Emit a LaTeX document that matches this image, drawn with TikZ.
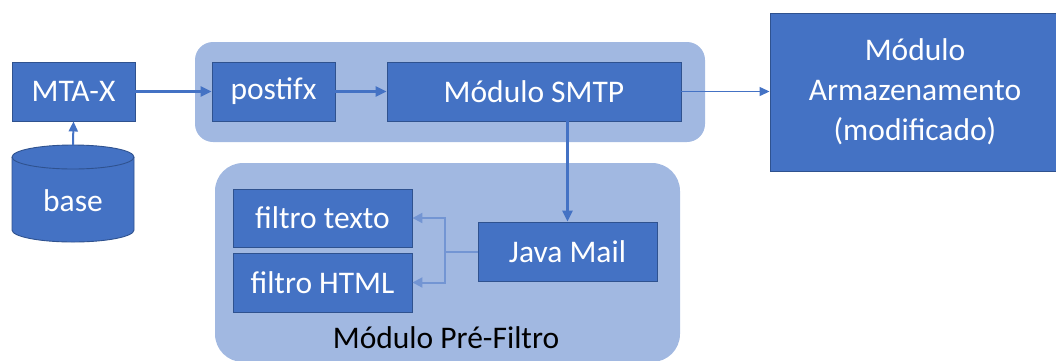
\documentclass[tikz,border=0pt]{standalone}
\usepackage{fontspec}
\setmainfont{Carlito}
\usetikzlibrary{arrows.meta}
\definecolor{boxblue}{RGB}{68,114,196}
\definecolor{boxedge}{RGB}{47,82,143}
\definecolor{grpblue}{RGB}{161,184,225}
\tikzset{
  box/.style={rectangle, draw=boxedge, line width=0.9pt, fill=boxblue, text=white, inner sep=0pt, align=center, font=\fontsize{31.5}{38}\selectfont},
  grp/.style={fill=grpblue, draw=none},
  thick arrow/.style={draw=boxblue, line width=2.4pt, -{Triangle[length=11pt,width=10pt]}},
  thin arrow/.style={draw=boxblue, line width=1.3pt, -{Triangle[length=10pt,width=9pt]}},
  light arrow/.style={draw=boxblue!75!white, line width=2pt, -{Triangle[length=10pt,width=10pt]}},
}
\begin{document}
\begin{tikzpicture}[x=1pt,y=-1pt]
\useasboundingbox (0,0) rectangle (1056,360);
% group backgrounds
\fill[grp, rounded corners=18pt] (195,42) rectangle (705,142);
\fill[grp, rounded corners=28pt] (215,163) rectangle (680,362);
% cylinder
\fill[boxblue, draw=boxedge, line width=0.9pt] (12,157) -- (12,230)
  arc[start angle=180, end angle=360, x radius=61pt, y radius=12pt]
  -- (134,157)
  arc[start angle=0, end angle=180, x radius=61pt, y radius=12pt] -- cycle;
\draw[boxedge, line width=0.9pt] (12,157)
  arc[start angle=180, end angle=360, x radius=61pt, y radius=12pt];
\node[inner sep=0pt, text=white, font=\fontsize{31.5}{38}\selectfont] (base) at (73,201) {base};
\coordinate (cyltop) at (73,145);
% boxes
\node[box, minimum width=123pt, minimum height=59pt] (mta) at (73.5,91.5) {MTA-X};
\node[box, minimum width=123pt, minimum height=59pt] (postfix) at (273.5,91.5) {postifx};
\node[box, minimum width=294pt, minimum height=59pt] (smtp) at (534,91.5) {Módulo SMTP};
\node[box, minimum width=290pt, minimum height=158pt, font=\fontsize{31.5}{40}\selectfont] (arm) at (915,92) {Módulo\\Armazenamento\\(modificado)};
\node[box, minimum width=179pt, minimum height=58pt] (ftexto) at (322.5,218) {filtro texto};
\node[box, minimum width=179pt, minimum height=59pt] (fhtml) at (322.5,282.5) {filtro HTML};
\node[box, minimum width=179pt, minimum height=59pt] (java) at (567.5,251.5) {Java Mail};
\node[inner sep=0pt, text=black, font=\fontsize{31.5}{38}\selectfont] (lbl) at (446,338) {Módulo Pré-Filtro};
% connectors
\draw[thin arrow, line width=2pt] (cyltop) -- (mta.south);
\draw[thick arrow] (mta.east) -- (postfix.west);
\draw[thick arrow, line width=3pt] (postfix.east) -- (smtp.west);
\draw[thin arrow] (smtp.east) -- (arm.west |- smtp.east);
\draw[thick arrow] (smtp.south -| java.north) -- (java.north);
\coordinate (split) at (445,251.5);
\draw[light arrow] (java.west) -- (split) |- (ftexto.east);
\draw[light arrow] (split) |- (fhtml.east);
\end{tikzpicture}
\end{document}
